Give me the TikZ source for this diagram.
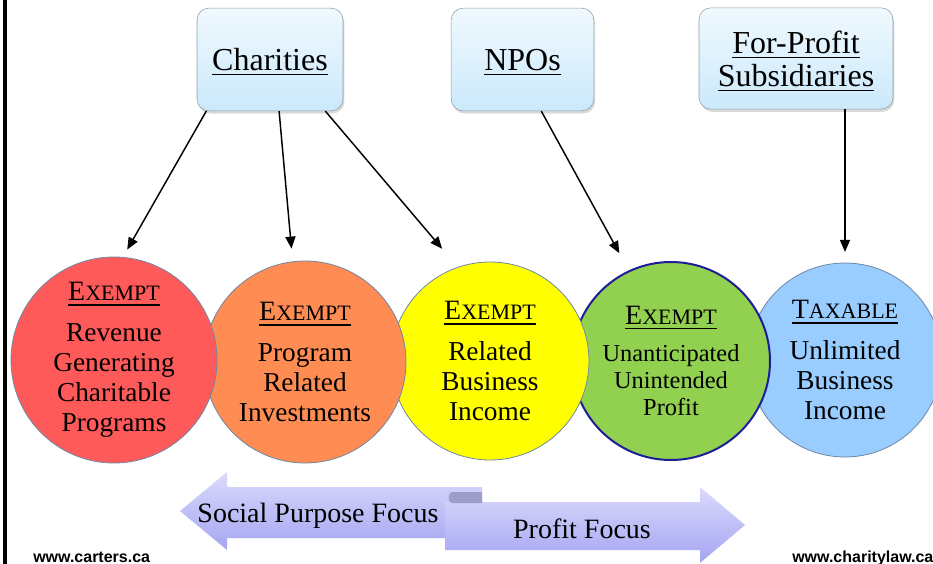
\documentclass[tikz,border=0pt]{standalone}
\usepackage{fontspec}
\setmainfont{Liberation Serif}
\newfontfamily\urlfont{Liberation Sans}
\usetikzlibrary{arrows.meta, shadows}
\definecolor{boxtop}{RGB}{240,249,254}
\definecolor{boxbot}{RGB}{203,233,251}
\definecolor{boxline}{RGB}{140,155,168}
\definecolor{cred}{RGB}{255,90,90}
\definecolor{corange}{RGB}{255,140,82}
\definecolor{cyellow}{RGB}{255,255,0}
\definecolor{cgreen}{RGB}{146,208,80}
\definecolor{cblue}{RGB}{153,204,255}
\definecolor{rimgray}{RGB}{110,135,165}
\definecolor{rimnavy}{RGB}{30,30,150}
\definecolor{focustop}{RGB}{218,218,252}
\definecolor{focusbot}{RGB}{165,165,242}
\definecolor{curl}{RGB}{158,158,200}

% underlined word, rule set a little below the baseline
\newcommand\hdrline[1]{\setbox0\hbox{#1}\rlap{\rule[-3.6pt]{\wd0}{1pt}}\box0}
% small capitals built by hand
\newcommand\capsc[2]{{\fontsize{21}{21}\selectfont#1}{\fontsize{16.5}{16.5}\selectfont#2}}
\newcommand\hdr[2]{\hdrline{\capsc{#1}{#2}}}

\begin{document}
\begin{tikzpicture}[x=0.75pt, y=-0.75pt,
  BX/.style ={draw=boxline, rounded corners=9pt, top color=boxtop, bottom color=boxbot,
              drop shadow={shadow xshift=1pt, shadow yshift=-2pt, opacity=.3},
              align=center, inner sep=0pt, text depth=0pt, font=\fontsize{24}{25}\selectfont},
  CI/.style ={circle, draw=rimgray, line width=0.6pt, inner sep=0pt},
  TX/.style ={align=center, inner sep=0pt, font=\fontsize{20.5}{22.5}\selectfont},
  AR/.style ={-{Triangle[length=9pt,width=7.5pt]}, line width=1.1pt},
  FA/.style ={top color=focustop, bottom color=focusbot},
  FT/.style ={anchor=base, inner sep=0pt, font=\fontsize{21}{21}\selectfont},
  URL/.style={anchor=base west, inner sep=0pt, font=\urlfont\bfseries\fontsize{12}{12}\selectfont}
]
  \useasboundingbox (0,0) rectangle (933,564);
  \draw[line width=3pt] (5,0) -- (5,564);

  \node[BX, minimum width=109.5pt, minimum height=77pt] (chr) at (270,59.5) {\hdrline{Charities}};
  \node[BX, minimum width=107pt, minimum height=77pt] (npo) at (522.5,59.5) {\hdrline{NPOs}};
  \node[BX, minimum width=145.5pt, minimum height=76pt] (fps) at (796,58.5)
    {\hdrline{For-Profit}\\\hdrline{Subsidiaries}};

  \node[CI, fill=cblue, minimum size=145.5pt] (ubi) at (845,360) {};
  \node[CI, fill=cgreen, draw=rimnavy, line width=1.5pt, minimum size=148.5pt] (uup) at (671,361) {};
  \node[CI, fill=cyellow, minimum size=148.5pt] (rbi) at (490,361) {};
  \node[CI, fill=corange, minimum size=151.5pt] (pri) at (305,362) {};
  \node[CI, fill=cred, minimum size=154.5pt] (rgc) at (114,360) {};

  \node[TX] (t1) at (rgc) {\hdr{E}{XEMPT}\\[8pt]Revenue\\Generating\\Charitable\\Programs};
  \node[TX] (t2) at (pri) {\hdr{E}{XEMPT}\\[8pt]Program\\Related\\Investments};
  \node[TX] (t3) at (rbi) {\hdr{E}{XEMPT}\\[8pt]Related\\Business\\Income};
  \node[TX, font=\fontsize{18.3}{20.3}\selectfont] (t4) at (uup)
    {\hdr{E}{XEMPT}\\[8pt]Unanticipated\\Unintended\\Profit};
  \node[TX] (t5) at (ubi) {\hdr{T}{AXABLE}\\[8pt]Unlimited\\Business\\Income};

  \foreach \a/\b/\s in {chr.219/rgc.85/6.4pt, chr.280/pri.97/9.6pt,
                        chr.317/rbi.109/18pt, npo.290/uup.115/14.7pt}
    \draw[AR, shorten >=\s] (\a) -- (\b);
  \draw[AR, shorten >=8pt] (fps.south -| ubi.north) -- (ubi.north);

  \path[FA] (180,511) -- (227,472) -- (227,487) -- (482,487) -- (482,538)
    -- (227,538) -- (227,550) -- cycle;
  \path[FA] (445,502) -- (700,502) -- (700,487) -- (745,525) -- (700,563)
    -- (700,550) -- (445,550) -- cycle;
  \fill[curl] (482,492) -- (452,492) to[out=180,in=180] (452,503) -- (482,503) -- cycle;
  \node[FT] (spf) at (318,522) {Social Purpose Focus};
  \node[FT] (pf) at (582,538) {Profit Focus};

  \node[URL] (cweb) at (33,562) {www.carters.ca};
  \node[URL] (lweb) at (792,562) {www.charitylaw.ca};
\end{tikzpicture}
\end{document}
